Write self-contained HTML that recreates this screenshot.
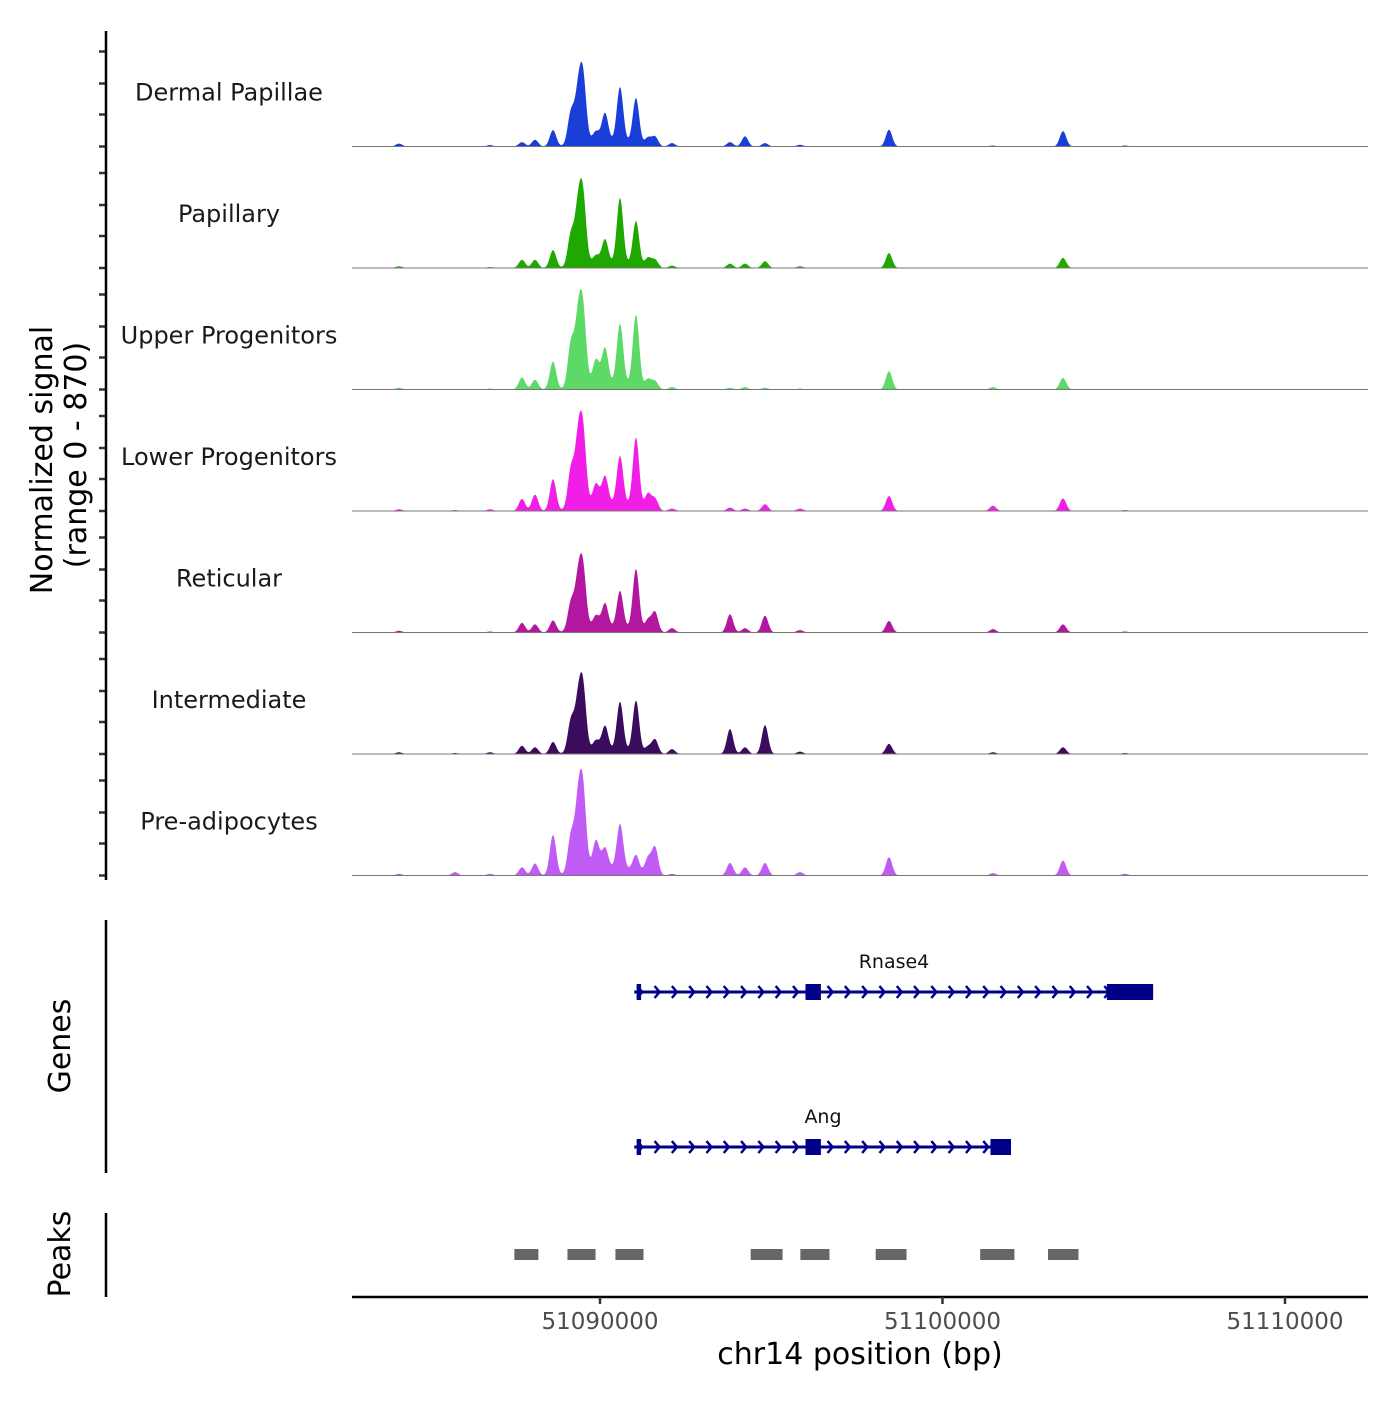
<!DOCTYPE html>
<html><head><meta charset="utf-8"><style>
body{margin:0;background:#fff}
svg text{font-family:"DejaVu Sans","Liberation Sans",sans-serif}
</style></head><body>
<svg id="chart" width="1400" height="1400" viewBox="0 0 1400 1400" xmlns="http://www.w3.org/2000/svg">
<g id="tracks"></g>
<g id="genes"></g>
<g id="peaks"></g>
<g id="axes"></g>
</svg>
<script>
const trackNames=["Dermal Papillae","Papillary","Upper Progenitors","Lower Progenitors","Reticular","Intermediate","Pre-adipocytes"];
const trackColors=["#1a3fd8","#1ea800","#5cd966","#f01ee6","#b3179f","#3b0b5e","#c05cf5"];
const peakPositions=[51084131,51085766,51086788,51087723,51088102,51088628,51089153,51089358,51089504,51089883,51090146,51090584,51091051,51091401,51091606,51092102,51093796,51094234,51094818,51095839,51098438,51101474,51103518,51105328];
const sigDP=[30,0,15,45,70,170,330,470,640,100,290,560,470,85,100,35,45,105,35,18,175,10,160,10];
const sigPap=[18,0,10,85,85,185,330,545,660,85,250,680,460,100,85,25,45,45,70,18,155,0,105,0];
const sigUpper=[18,0,10,125,100,290,450,620,720,250,370,620,740,100,85,25,18,25,18,10,190,25,120,0];
const sigLower=[18,10,18,125,170,330,400,620,710,210,290,500,720,170,125,25,35,25,70,25,155,55,130,10];
const sigRet=[18,0,10,100,85,125,290,470,580,125,250,380,630,125,210,45,190,45,175,25,120,35,85,10];
const sigInt=[18,10,18,85,70,125,330,470,620,100,250,500,530,70,150,50,260,70,300,25,105,18,70,10];
const sigPre=[18,35,18,85,125,420,380,640,770,290,210,460,170,170,290,18,130,85,130,35,190,25,155,18];
const trackSignals=[sigDP,sigPap,sigUpper,sigLower,sigRet,sigInt,sigPre];
const broadLevel=[60,50,65,75,55,45,80];
const xTicks=[51090000,51100000,51110000];
const peakStarts=[51087500,51089050,51090450,51094400,51095850,51098050,51101100,51103080];
const peakEnds=[51088200,51089870,51091270,51095330,51096700,51098950,51102100,51103970];
const genes=["Rnase4","Ang"];
const geneStarts=[51091000,51091000];
const geneEnds=[51106150,51102000];
const exonStarts=[[51091070,51096000,51104800],[51091070,51096000,51101400]];
const exonEnds=[[51091200,51096450,51106150],[51091200,51096450,51102000]];

const NS="http://www.w3.org/2000/svg";
function el(tag,attrs,parent){const e=document.createElementNS(NS,tag);for(const k in attrs)e.setAttribute(k,attrs[k]);parent.appendChild(e);return e;}
const X0=352,X1=1368;
function xs(bp){return 600+(bp-51090000)*0.03425;}
const pxPerUnit=116/870*0.72;
const trackTop=30,trackH=121.5;
const tg=document.getElementById('tracks');
const ax=document.getElementById('axes');
trackNames.forEach((name,t)=>{
  const base=trackTop+trackH*(t+1)-5;
  let d="M"+X0+","+base;
  for(let x=X0;x<=X1;x+=0.5){
    let v=0;
    peakPositions.forEach((p,i)=>{const dx=(xs(p)-x)/3.2;v+=trackSignals[t][i]*Math.exp(-dx*dx/2);});
    const db=(x-605)/30;v+=broadLevel[t]*Math.exp(-db*db*db*db/2);
    d+=" L"+x.toFixed(1)+","+(base-v*pxPerUnit).toFixed(2);
  }
  d+=" L"+X1+","+base+" Z";
  const a=el('path',{d:d,fill:trackColors[t]},tg);
  
  
  const bl=el('line',{x1:X0,x2:X1,y1:base,y2:base,stroke:"#777","stroke-width":1},tg);
  
  
  const lb=el('text',{x:229,y:base-46,"text-anchor":"middle","font-size":24,fill:"#1a1a1a"},tg);
  lb.textContent=name;
  
  
  [0,32,63,95].forEach(o=>{const tk=el('line',{x1:99,x2:106,y1:base-o,y2:base-o,stroke:"#333","stroke-width":2.5},ax);
    
    });
});
const gg=document.getElementById('genes');
const gy=[992,1147];
genes.forEach((g,i)=>{
  const y=gy[i],a=xs(geneStarts[i]),b=xs(geneEnds[i]);
  const ln=el('line',{x1:a,x2:b,y1:y,y2:y,stroke:"#00008b","stroke-width":3},gg);
  
  
  for(let x=a+3;x<b-8;x+=17.3){el('path',{d:`M${x},${y-6} L${x+5},${y} L${x},${y+6}`,fill:"none",stroke:"#00008b","stroke-width":2.5},gg);}
  exonStarts[i].forEach((s,j)=>{const x0=xs(s),x1=xs(exonEnds[i][j]);const r=el('rect',{x:x0,y:y-8,width:Math.max(x1-x0,4),height:16,fill:"#00008b"},gg);
    
    });
  const tx=el('text',{x:i==0?894:823,y:y-24,"text-anchor":"middle","font-size":19,fill:"#111"},gg);
  tx.textContent=g;
  
  
});
const pg=document.getElementById('peaks');
peakStarts.forEach((s,i)=>{const r=el('rect',{x:xs(s),y:1249,width:xs(peakEnds[i])-xs(s),height:11,fill:"#666"},pg);
  
  });
[[31,880],[920,1173],[1213,1297]].forEach(([a,b])=>{const l=el('line',{x1:106,x2:106,y1:a,y2:b,stroke:"#000","stroke-width":2.5},ax);
  
  });
const xl=el('line',{x1:X0,x2:X1,y1:1297,y2:1297,stroke:"#000","stroke-width":2.5},ax);


xTicks.forEach(v=>{const x=xs(v);el('line',{x1:x,x2:x,y1:1297,y2:1304,stroke:"#333","stroke-width":2.5},ax);
  const t=el('text',{x:x,y:1329,"text-anchor":"middle","font-size":23,fill:"#4d4d4d"},ax);t.textContent=v;
  
  });
function rot(txt,x,y,size,name){const t=el('text',{x:x,y:y,"text-anchor":"middle","font-size":size,fill:"#000",transform:`rotate(-90 ${x} ${y})`},ax);t.textContent=txt;
  
  }
rot("Normalized signal",52,460,30,"y-axis-title");
rot("(range 0 - 870)",86,455,30,"y-axis-subtitle");
rot("Genes",70,1046,30,"genes-axis-title");
rot("Peaks",70,1254,30,"peaks-axis-title");
const xt=el('text',{x:860,y:1364,"text-anchor":"middle","font-size":30,fill:"#000"},ax);xt.textContent="chr14 position (bp)";


</script>
</body></html>
